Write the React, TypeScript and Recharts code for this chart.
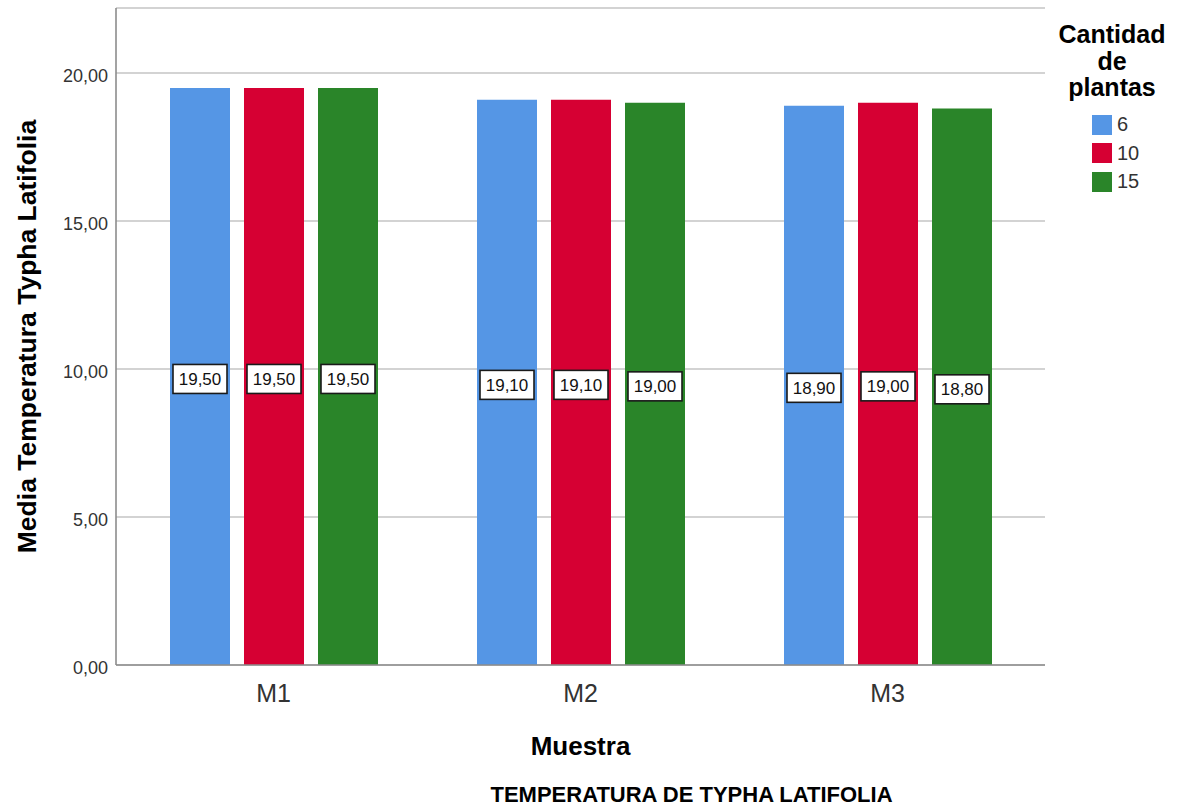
import React from 'react';
import { BarChart, Bar, XAxis, YAxis, CartesianGrid, Legend, LabelList, Label } from 'recharts';

// Mean temperature per sample (M1..M3) for each plant count
const categories = ['M1', 'M2', 'M3'];
const plantas6 = [19.5, 19.1, 18.9];
const plantas10 = [19.5, 19.1, 19.0];
const plantas15 = [19.5, 19.0, 18.8];
const seriesNames = ['6', '10', '15'];
const seriesKeys = ['s6', 's10', 's15'];
const seriesColors = ['#5596E5', '#D60033', '#2A8529'];
const yTicks = [0, 5, 10, 15, 20];

const data = categories.map((c, i) => ({
  muestra: c,
  s6: plantas6[i],
  s10: plantas10[i],
  s15: plantas15[i],
}));

const FONT = '"Liberation Sans", Arial, Helvetica, sans-serif';

const fmt = (v: number) => Number(v).toFixed(2).replace('.', ',');

const renderBarLabel = (props: any) => {
  const { x, y, width, height, value } = props;
  const cx = Number(x) + Number(width) / 2;
  const cy = Number(y) + Number(height) / 2 + 2.5;
  return (
    <g>
      <rect x={cx - 27} y={cy - 14.5} width={54} height={29} fill="#ffffff" stroke="#1a1a1a" strokeWidth={1.6} />
      <text x={cx} y={cy} dy={6} textAnchor="middle" fontSize={17} fontFamily={FONT} fill="#111">
        {fmt(value)}
      </text>
    </g>
  );
};

const renderLegend = () => (
  <div style={{ fontFamily: FONT, width: 144 }}>
    <div
      style={{
        fontWeight: 'bold',
        fontSize: 25,
        lineHeight: '26.5px',
        textAlign: 'center',
        color: '#000',
        paddingTop: 21,
      }}
    >
      <div>Cantidad</div>
      <div>de</div>
      <div>plantas</div>
    </div>
    <div style={{ marginTop: 10 }}>
      {seriesNames.map((name, i) => (
        <div key={name} style={{ display: 'flex', alignItems: 'center', height: 28.5 }}>
          <span
            style={{
              display: 'inline-block',
              width: 20,
              height: 20,
              marginLeft: 52,
              background: seriesColors[i],
            }}
          />
          <span style={{ fontSize: 20, color: '#333', marginLeft: 5 }}>{name}</span>
        </div>
      ))}
    </div>
  </div>
);

export default function App() {
  return (
    <div style={{ position: 'absolute', left: 0, top: 0, width: 1184, height: 809, background: '#fff' }}>
      <BarChart
        width={1184}
        height={809}
        data={data}
        margin={{ top: 8, right: 139, bottom: 0, left: 0 }}
        barSize={60}
        barGap={14}
        style={{ fontFamily: FONT }}
      >
        <CartesianGrid vertical={false} stroke="#c4c4c4" strokeWidth={1.5} />
        <XAxis
          dataKey="muestra"
          height={144}
          tickLine={false}
          tickMargin={13}
          padding={{ left: 4, right: 4 }}
          axisLine={{ stroke: '#8c8c8c', strokeWidth: 1.6 }}
          tick={{ fontSize: 25, fill: '#333', fontFamily: FONT }}
        >
          <Label
            content={(p: any) => {
              const vb = p.viewBox || {};
              return (
                <text
                  x={vb.x + vb.width / 2}
                  y={vb.y + 90}
                  textAnchor="middle"
                  fontSize={26}
                  fontWeight="bold"
                  fontFamily={FONT}
                  fill="#000"
                >
                  Muestra
                </text>
              );
            }}
          />
          <Label
            content={(p: any) => {
              const vb = p.viewBox || {};
              return (
                <text
                  x={vb.x + vb.width / 2 + 111}
                  y={vb.y + 137}
                  textAnchor="middle"
                  fontSize={22}
                  fontWeight="bold"
                  fontFamily={FONT}
                  fill="#000"
                >
                  TEMPERATURA DE TYPHA LATIFOLIA
                </text>
              );
            }}
          />
        </XAxis>
        <YAxis
          width={116}
          domain={[0, 22.2]}
          ticks={yTicks}
          interval={0}
          tickLine={false}
          axisLine={{ stroke: '#8c8c8c', strokeWidth: 1.6 }}
          tick={{ fontSize: 18, fill: '#333', fontFamily: FONT, dy: 3 }}
          tickFormatter={fmt}
        >
          <Label
            content={(p: any) => {
              const vb = p.viewBox || {};
              const cy = vb.y + vb.height / 2;
              return (
                <text
                  x={36}
                  y={cy}
                  transform={`rotate(-90, 36, ${cy})`}
                  textAnchor="middle"
                  fontSize={26.5}
                  fontWeight="bold"
                  fontFamily={FONT}
                  fill="#000"
                >
                  Media Temperatura Typha Latifolia
                </text>
              );
            }}
          />
        </YAxis>
        <Legend
          layout="horizontal"
          verticalAlign="middle"
          align="center"
          content={renderLegend}
          wrapperStyle={{ position: 'absolute', left: 1040, top: 0, width: 144, height: 200 }}
        />
        {seriesKeys.map((k, i) => (
          <Bar key={k} dataKey={k} name={seriesNames[i]} fill={seriesColors[i]} isAnimationActive={false}>
            <LabelList dataKey={k} content={renderBarLabel} />
          </Bar>
        ))}
      </BarChart>
    </div>
  );
}
